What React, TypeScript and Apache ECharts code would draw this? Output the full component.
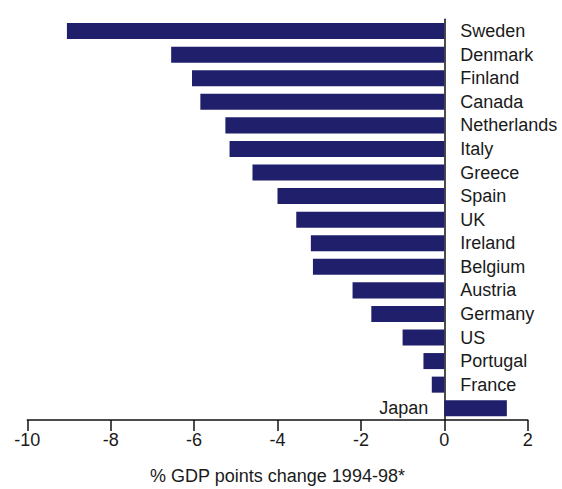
import React, { useEffect, useRef } from "react";
import * as echarts from "echarts";

const countries = [
  "Sweden", "Denmark", "Finland", "Canada", "Netherlands", "Italy", "Greece", "Spain",
  "UK", "Ireland", "Belgium", "Austria", "Germany", "US", "Portugal", "France", "Japan",
];
const changes = [
  -9.05, -6.55, -6.05, -5.85, -5.25, -5.15, -4.6, -4.0,
  -3.55, -3.2, -3.15, -2.2, -1.75, -1.0, -0.5, -0.3, 1.5,
];
const axisTitle = "% GDP points change 1994-98*";

const FONT = "'Liberation Sans', Arial, sans-serif";

export default function App() {
  const ref = useRef<HTMLDivElement>(null);
  useEffect(() => {
    if (!ref.current) return;
    const chart = echarts.init(ref.current, null, { renderer: "svg" });
    chart.setOption({
      animation: false,
      backgroundColor: "#ffffff",
      grid: {
        left: 27.3,
        right: 34.3,
        top: 19.3,
        bottom: 69,
        containLabel: false,
        outerBoundsMode: "none",
      },
      xAxis: {
        type: "value",
        min: -10,
        max: 2,
        interval: 2,
        name: axisTitle,
        nameLocation: "middle",
        nameGap: 47,
        nameTextStyle: { fontFamily: FONT, fontSize: 18, color: "#1a1a1a" },
        axisLine: { show: true, onZero: false, lineStyle: { color: "#111", width: 1.5 } },
        axisTick: { show: true, inside: false, length: 11, lineStyle: { color: "#111", width: 1.5 } },
        axisLabel: { margin: 11, fontFamily: FONT, fontSize: 18, color: "#1a1a1a" },
        splitLine: { show: false },
      },
      yAxis: {
        type: "category",
        data: countries,
        inverse: true,
        axisLine: { show: true, onZero: true, lineStyle: { color: "#111", width: 1.5 } },
        axisTick: { show: false },
        axisLabel: { show: false },
        splitLine: { show: false },
      },
      series: [
        {
          type: "bar",
          data: changes.map((v) => ({
            value: v,
            label: { position: v >= 0 ? "left" : "right" },
          })),
          barCategoryGap: "32%",
          itemStyle: { color: "#1f1f6c" },
          label: {
            show: true,
            formatter: "{b}",
            distance: 16,
            fontFamily: FONT,
            fontSize: 18,
            color: "#1a1a1a",
          },
        },
      ],
    });
    return () => chart.dispose();
  }, []);
  return <div ref={ref} style={{ width: 562, height: 489, position: "absolute", left: 0, top: 0 }} />;
}
